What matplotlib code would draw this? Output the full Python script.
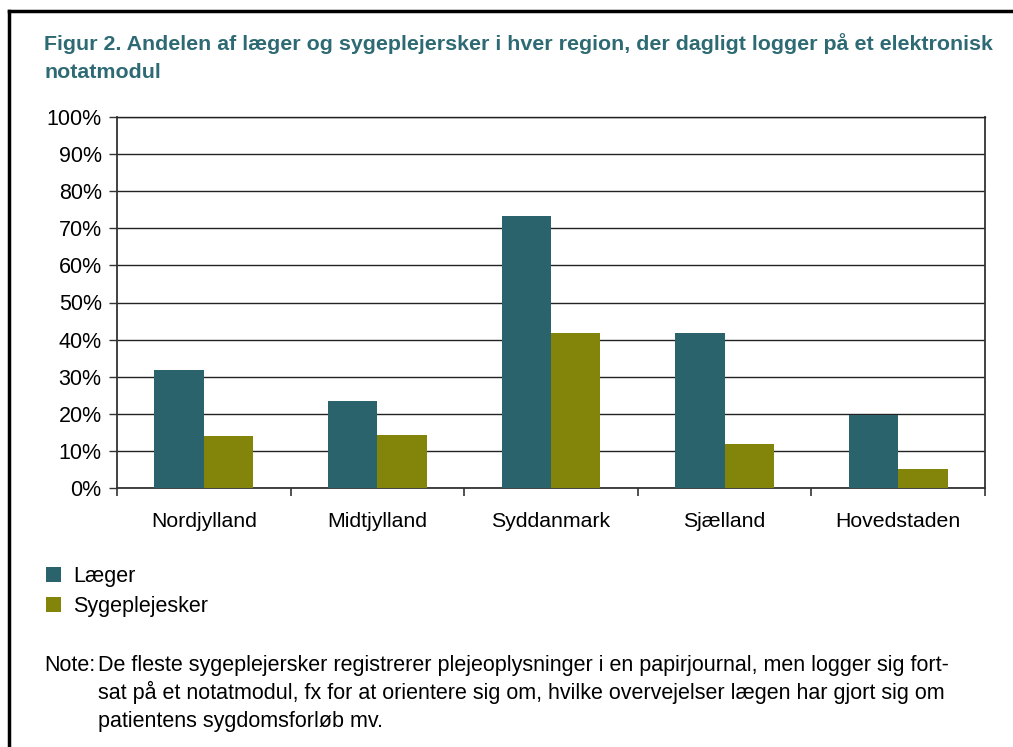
import matplotlib
matplotlib.use("Agg")
import matplotlib.pyplot as plt
import numpy as np
from matplotlib.lines import Line2D

plt.rcParams['font.family'] = ['Liberation Sans', 'DejaVu Sans']

# data
regions = ['Nordjylland', 'Midtjylland', 'Syddanmark', 'Sjælland', 'Hovedstaden']
laeger = [31.8, 23.5, 73.2, 41.8, 19.6]
sygeplejersker = [14.0, 14.4, 41.8, 11.8, 5.2]
series_names = ['Læger', 'Sygeplejesker']
yticks = [0, 10, 20, 30, 40, 50, 60, 70, 80, 90, 100]

title_lines = [
    'Figur 2. Andelen af læger og sygeplejersker i hver region, der dagligt logger på et elektronisk',
    'notatmodul',
]
note_lines = [
    'De fleste sygeplejersker registrerer plejeoplysninger i en papirjournal, men logger sig fort-',
    'sat på et notatmodul, fx for at orientere sig om, hvilke overvejelser lægen har gjort sig om',
    'patientens sygdomsforløb mv.',
]

teal = '#2B636D'
olive = '#83850B'
title_col = '#2E6A73'

W, H = 1013, 747
def fx(px):
    return px / W
def fy(py):
    return 1 - py / H

fig = plt.figure(figsize=(W / 100, H / 100), dpi=100)
ax = fig.add_axes([fx(117), fy(488), fx(985) - fx(117), fy(117) - fy(488)])

x = np.arange(len(regions))
bw = 0.285
ax.bar(x - bw / 2, laeger, bw, color=teal, label=series_names[0], zorder=3)
ax.bar(x + bw / 2, sygeplejersker, bw, color=olive, label=series_names[1], zorder=3)

ax.set_xlim(-0.5, len(regions) - 0.5)
ax.set_ylim(0, 100)
ax.set_yticks(yticks)
ax.set_yticklabels([f'{v}%' for v in yticks], fontsize=15.5)
ax.yaxis.grid(True, color='#222222', linewidth=1.0, zorder=0)

ax.set_xticks(x)
ax.set_xticklabels(regions, fontsize=15.3)
ax.tick_params(axis='x', which='major', length=0, pad=17)
ax.set_xticks(np.arange(-0.5, len(regions)), minor=True)
ax.tick_params(axis='x', which='minor', length=6, width=1.2, color='#333333', direction='out')
ax.tick_params(axis='y', length=6, width=1.0, color='#333333', direction='out', pad=5)

for s in ['left', 'right', 'bottom']:
    ax.spines[s].set_color('#333333')
    ax.spines[s].set_linewidth(1.3)
ax.spines['top'].set_color('#222222')
ax.spines['top'].set_linewidth(1.0)

for i, line in enumerate(title_lines):
    fig.text(fx(44), fy(50 + 28 * i), line, fontsize=15.4, fontweight='bold', color=title_col,
             ha='left', va='baseline')

fig.legend(loc='upper left', bbox_to_anchor=(fx(46), fy(566)), frameon=False,
           fontsize=15.5, handlelength=0.7, handleheight=0.7, handletextpad=0.55,
           labelspacing=0.44, borderaxespad=0, borderpad=0)

fig.text(fx(44), fy(671), 'Note:', fontsize=15.5, ha='left', va='baseline')
for i, line in enumerate(note_lines):
    fig.text(fx(98), fy(671 + 28 * i), line, fontsize=15.5, ha='left', va='baseline')

# page frame (left and top edges)
fig.add_artist(Line2D([fx(9), fx(9)], [0, fy(11)], color='black', linewidth=2.5))
fig.add_artist(Line2D([fx(9), 1], [fy(11), fy(11)], color='black', linewidth=2.5))

fig.savefig('out.png', dpi=100)
